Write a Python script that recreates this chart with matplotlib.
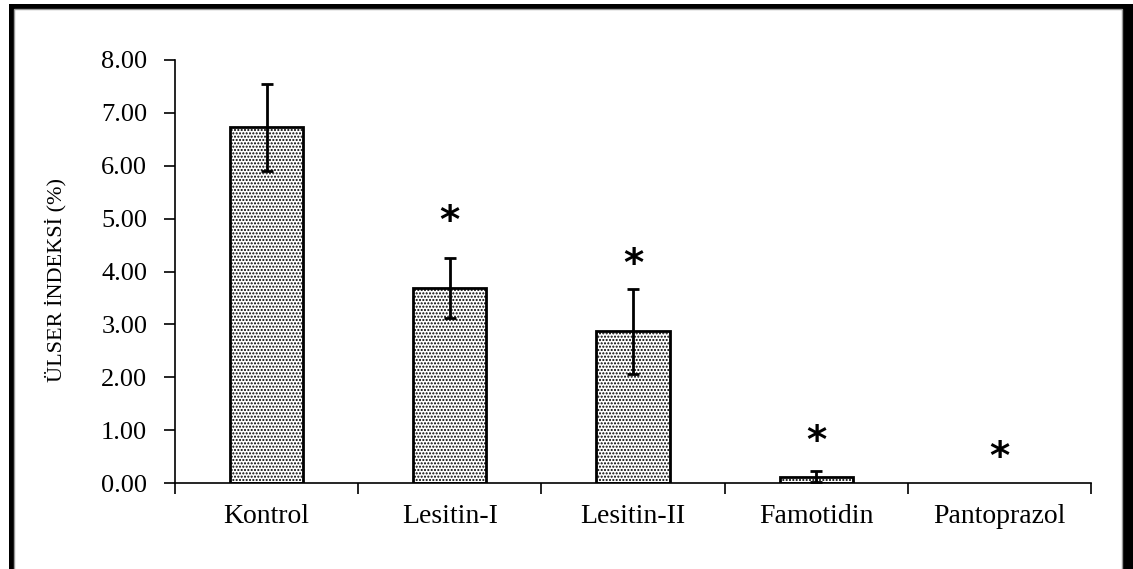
import matplotlib
matplotlib.use('Agg')
import matplotlib.pyplot as plt
from matplotlib.patches import Rectangle
import numpy as np

categories = ['Kontrol', 'Lesitin-I', 'Lesitin-II', 'Famotidin', 'Pantoprazol']
values = [6.73, 3.69, 2.87, 0.12, 0.0]
errors = [0.82, 0.57, 0.80, 0.10, 0.0]
star_y = [None, 5.07, 4.25, 0.91, 0.60]
yticks = [0, 1, 2, 3, 4, 5, 6, 7, 8]

W, H = 1133, 569
plt.rcParams['font.family'] = ['Liberation Serif', 'DejaVu Serif']
plt.rcParams['hatch.linewidth'] = 1.0
plt.rcParams['hatch.color'] = 'black'

fig = plt.figure(figsize=(W / 100, H / 100), dpi=100)

# frame round the whole picture (black, gray inner line)
outer = Rectangle((9 / W, -0.1), 2, (H - 4) / H + 0.1, transform=fig.transFigure,
                  facecolor='black', edgecolor='none', zorder=-10)
inner = Rectangle((14 / W, -0.1), (1122 - 14) / W, (H - 9) / H + 0.1, transform=fig.transFigure,
                  facecolor='white', edgecolor='#999999', linewidth=1, zorder=-9)
fig.add_artist(outer)
fig.add_artist(inner)

ax = fig.add_axes([175 / W, 1 - 483 / H, (1091 - 175) / W, (483 - 60) / H])
ax.set_facecolor('none')

x = np.arange(len(categories))
ax.bar(x[:4], values[:4], width=0.4, color='white', edgecolor='black', linewidth=2,
       hatch='.....', zorder=2)
ax.errorbar(x[:4], values[:4], yerr=errors[:4], fmt='none', ecolor='black',
            elinewidth=2, capsize=4.5, capthick=2, zorder=3)

for xi, sy in zip(x, star_y):
    if sy is not None:
        # glyph sits high in its line box, nudge it down a little
        ax.annotate('*', (xi, sy), xytext=(0, -5), textcoords='offset points',
                    ha='center', va='center', fontsize=28, weight='bold',
                    family='DejaVu Sans', zorder=4)

ax.set_xlim(-0.5, len(categories) - 0.5)
ax.set_ylim(0, 8)
ax.set_yticks(yticks)
ax.set_yticklabels([f'{v:.2f}' for v in yticks])
ax.tick_params(axis='y', direction='out', length=8, width=1.2, pad=12, labelsize=19)

ax.set_xticks(np.arange(len(categories) + 1) - 0.5)
ax.set_xticklabels([])
ax.set_xticks(x, minor=True)
ax.set_xticklabels(categories, minor=True)
ax.tick_params(axis='x', which='major', direction='out', length=8, width=1.2)
ax.tick_params(axis='x', which='minor', length=0, pad=15, labelsize=20)

for s in ['top', 'right']:
    ax.spines[s].set_visible(False)
ax.spines['left'].set_linewidth(1.2)
ax.spines['bottom'].set_linewidth(1.2)

ax.set_ylabel('ÜLSER İNDEKSİ (%)', fontsize=16)
ax.yaxis.set_label_coords(-0.118, 0.48)

fig.savefig('out.png', dpi=100)
